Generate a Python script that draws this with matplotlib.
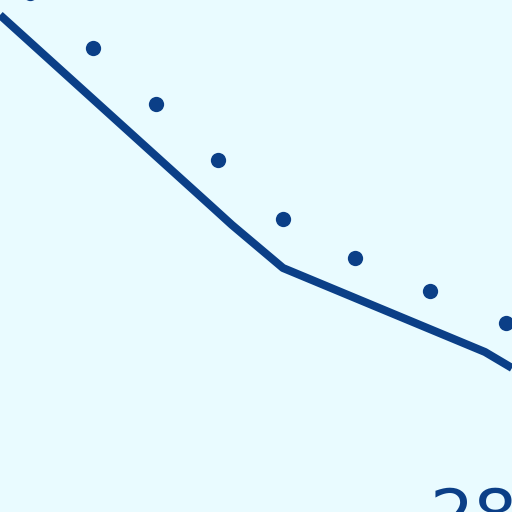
import numpy as np
import matplotlib.pyplot as plt

# solid line (x, y), y measured upward from bottom edge
line_x = [0, 210, 232, 283, 485, 512]
line_y = [497, 307, 287, 244, 160, 144]

# dotted series (first point sits just above the top edge)
dot_x = [30, 93, 156, 218, 283, 355, 430, 506]
dot_y = [519, 464, 408, 352, 293, 254, 221, 189]

label_text = "28"

bg = "#e9fbff"
navy = "#0b3f87"

fig = plt.figure(figsize=(5.12, 5.12), dpi=100, facecolor=bg)
ax = fig.add_axes([0, 0, 1, 1])
ax.set_facecolor(bg)

ax.plot(line_x, line_y, color=navy, lw=5.8, solid_capstyle="butt", solid_joinstyle="round")
ax.plot(dot_x, dot_y, "o", color=navy, ms=11, mew=0)

ax.text(430, -27, label_text, color=navy, fontsize=50, ha="left", va="baseline")

ax.set_xlim(0, 512)
ax.set_ylim(0, 512)
ax.axis("off")

fig.savefig("out.png", dpi=100, facecolor=bg)
